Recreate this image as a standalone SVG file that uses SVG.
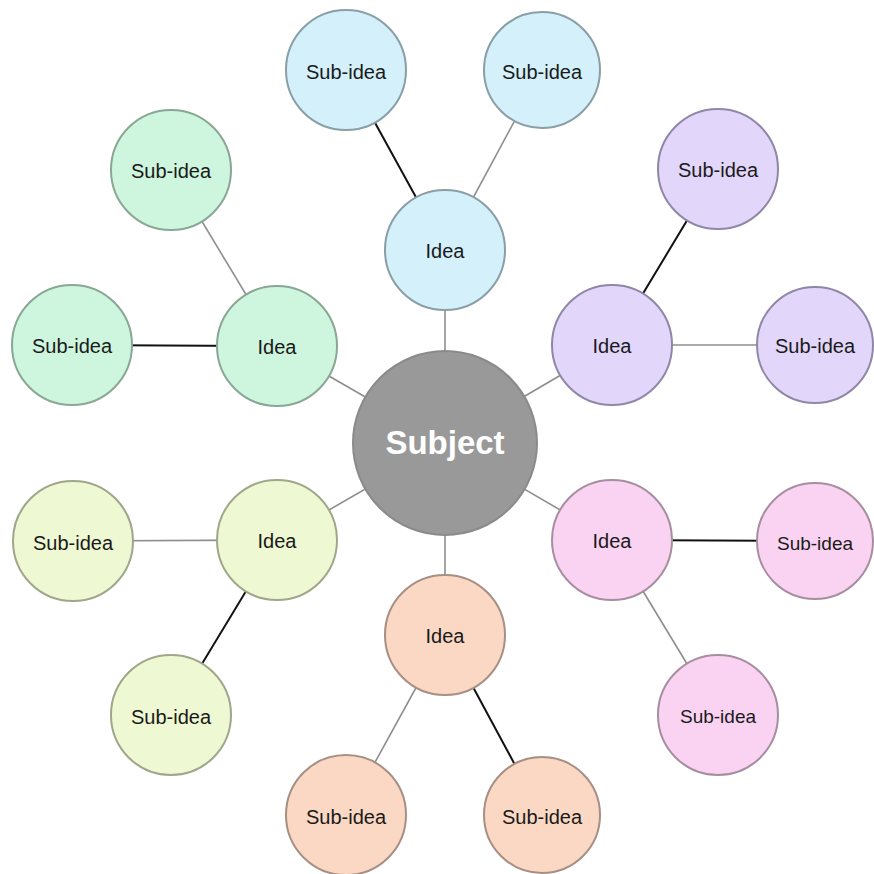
<svg xmlns="http://www.w3.org/2000/svg" width="874" height="874" viewBox="0 0 874 874">
<style>
.n{stroke-width:2}
.t{font-family:"Liberation Sans",Arial,sans-serif;font-size:20px;fill:#1a1a1a;text-anchor:middle}
.s{font-family:"Liberation Sans",Arial,sans-serif;font-size:33px;font-weight:bold;fill:#ffffff;text-anchor:middle}
.g{stroke:#8e8e8e;stroke-width:1.6}
.k{stroke:#111111;stroke-width:2}
.blue{fill:#d3f0fb;stroke:#8a9ea6}
.green{fill:#cef5dd;stroke:#8aa694}
.purple{fill:#e3d6fb;stroke:#8f87a6}
.lime{fill:#eef8d3;stroke:#a0a68a}
.pink{fill:#fad3f3;stroke:#a68e9f}
.orange{fill:#fbd8c4;stroke:#a68f84}
</style>
<rect width="874" height="874" fill="#ffffff"/>
<g id="connectors">
<line class="g" x1="445" y1="443" x2="445" y2="250"/>
<line class="g" x1="445" y1="443" x2="277" y2="346"/>
<line class="g" x1="445" y1="443" x2="612" y2="345"/>
<line class="g" x1="445" y1="443" x2="277" y2="540"/>
<line class="g" x1="445" y1="443" x2="612" y2="540"/>
<line class="g" x1="445" y1="443" x2="445" y2="635"/>
<line class="k" x1="445" y1="250" x2="346" y2="70"/>
<line class="g" x1="445" y1="250" x2="542" y2="70"/>
<line class="g" x1="277" y1="346" x2="171" y2="170"/>
<line class="k" x1="277" y1="346" x2="72" y2="345"/>
<line class="k" x1="612" y1="345" x2="718" y2="169"/>
<line class="g" x1="612" y1="345" x2="815" y2="345"/>
<line class="g" x1="277" y1="540" x2="73" y2="541"/>
<line class="k" x1="277" y1="540" x2="171" y2="715"/>
<line class="k" x1="612" y1="540" x2="815" y2="541"/>
<line class="g" x1="612" y1="540" x2="718" y2="715"/>
<line class="g" x1="445" y1="635" x2="346" y2="815"/>
<line class="k" x1="445" y1="635" x2="542" y2="815"/>
</g>
<g id="subject"><circle cx="445" cy="443" r="92" fill="#999999" stroke="#8a8a8a" stroke-width="2"/><text class="s" x="445" y="454">Subject</text></g>
<g id="idea-blue"><circle class="n blue" cx="445" cy="250" r="60"/><text class="t" x="445" y="258">Idea</text></g>
<g id="sub-blue-1"><circle class="n blue" cx="346" cy="70" r="60"/><text class="t" x="346" y="79">Sub-idea</text></g>
<g id="sub-blue-2"><circle class="n blue" cx="542" cy="70" r="58"/><text class="t" x="542" y="79">Sub-idea</text></g>
<g id="idea-green"><circle class="n green" cx="277" cy="346" r="60"/><text class="t" x="277" y="354">Idea</text></g>
<g id="sub-green-1"><circle class="n green" cx="171" cy="170" r="60"/><text class="t" x="171" y="178">Sub-idea</text></g>
<g id="sub-green-2"><circle class="n green" cx="72" cy="345" r="60"/><text class="t" x="72" y="353">Sub-idea</text></g>
<g id="idea-purple"><circle class="n purple" cx="612" cy="345" r="60"/><text class="t" x="612" y="353">Idea</text></g>
<g id="sub-purple-1"><circle class="n purple" cx="718" cy="169" r="60"/><text class="t" x="718" y="177">Sub-idea</text></g>
<g id="sub-purple-2"><circle class="n purple" cx="815" cy="345" r="58"/><text class="t" x="815" y="353">Sub-idea</text></g>
<g id="idea-lime"><circle class="n lime" cx="277" cy="540" r="60"/><text class="t" x="277" y="548">Idea</text></g>
<g id="sub-lime-1"><circle class="n lime" cx="73" cy="541" r="60"/><text class="t" x="73" y="550">Sub-idea</text></g>
<g id="sub-lime-2"><circle class="n lime" cx="171" cy="715" r="60"/><text class="t" x="171" y="724">Sub-idea</text></g>
<g id="idea-pink"><circle class="n pink" cx="612" cy="540" r="60"/><text class="t" x="612" y="548">Idea</text></g>
<g id="sub-pink-1"><circle class="n pink" cx="815" cy="541" r="58"/><text class="t" x="815" y="550" style="font-size:19px">Sub-idea</text></g>
<g id="sub-pink-2"><circle class="n pink" cx="718" cy="715" r="60"/><text class="t" x="718" y="723" style="font-size:19px">Sub-idea</text></g>
<g id="idea-orange"><circle class="n orange" cx="445" cy="635" r="60"/><text class="t" x="445" y="643">Idea</text></g>
<g id="sub-orange-1"><circle class="n orange" cx="346" cy="815" r="60"/><text class="t" x="346" y="824">Sub-idea</text></g>
<g id="sub-orange-2"><circle class="n orange" cx="542" cy="815" r="58"/><text class="t" x="542" y="824">Sub-idea</text></g>
</svg>
